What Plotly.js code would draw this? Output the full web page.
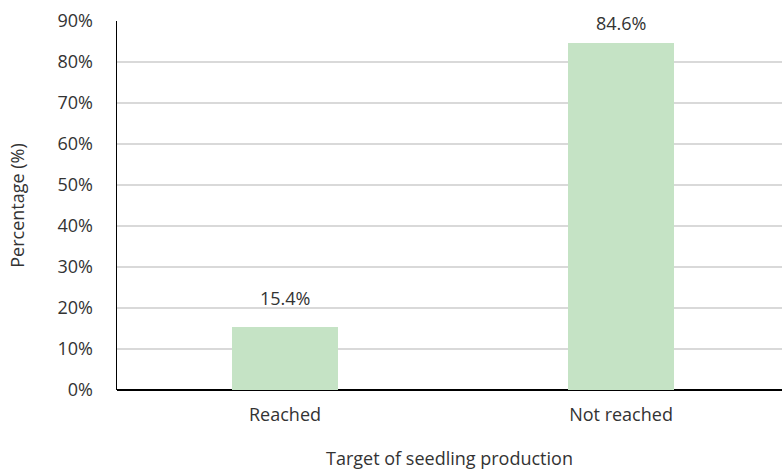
<!DOCTYPE html>
<html>
<head>
<meta charset="utf-8">
<script src="https://cdn.plot.ly/plotly-3.0.1.min.js"></script>
<style>
  html, body { margin: 0; padding: 0; background: #ffffff; }
  #chart { width: 782px; height: 471px; }
</style>
</head>
<body>
<div id="chart"></div>
<script>
// Share of nurseries by whether the seedling production target was met
const categories = ['Reached', 'Not reached'];
const percentages = [15.4, 84.6];
const valueLabels = ['15.4%', '84.6%'];
const yTickValues = [0, 10, 20, 30, 40, 50, 60, 70, 80, 90];
const yTickLabels = ['0%', '10%', '20%', '30%', '40%', '50%', '60%', '70%', '80%', '90%'];

const FONT = '"Open Sans", "Noto Sans", sans-serif';
const TEXT_COLOR = '#333333';
const SIZE = 18;

const bars = {
  type: 'bar',
  x: categories,
  y: percentages,
  width: 0.315,
  marker: { color: '#c5e3c5', line: { width: 0 } },
  hoverinfo: 'skip'
};

// value labels sit above each bar, kept inside the top of the plot
const labels = categories.map((c, i) => ({
  x: c,
  y: Math.min(percentages[i] + 7, 89.5),
  xref: 'x',
  yref: 'y',
  text: valueLabels[i],
  showarrow: false,
  yanchor: 'middle',
  font: { family: FONT, size: SIZE, color: TEXT_COLOR }
}));

const layout = {
  width: 782,
  height: 471,
  margin: { l: 117, r: 0, t: 21, b: 81 },
  paper_bgcolor: '#ffffff',
  plot_bgcolor: '#ffffff',
  showlegend: false,
  font: { family: FONT, size: SIZE, color: TEXT_COLOR },
  xaxis: {
    type: 'category',
    range: [-0.5, 1.479],
    showgrid: false,
    showline: false,
    zeroline: false,
    ticks: '',
    ticklabelstandoff: 12,
    tickfont: { family: FONT, size: SIZE, color: TEXT_COLOR },
    title: {
      text: 'Target of seedling production',
      font: { family: FONT, size: SIZE, color: TEXT_COLOR },
      standoff: 27
    }
  },
  yaxis: {
    range: [0, 90],
    tickvals: yTickValues,
    ticktext: yTickLabels,
    showgrid: true,
    gridcolor: '#d9d9d9',
    gridwidth: 1.5,
    zeroline: true,
    zerolinecolor: '#000000',
    zerolinewidth: 1.5,
    showline: true,
    linecolor: '#000000',
    linewidth: 1.5,
    ticks: '',
    ticklabelstandoff: 19,
    tickfont: { family: FONT, size: SIZE, color: TEXT_COLOR },
    title: {
      text: 'Percentage (%)',
      font: { family: FONT, size: SIZE, color: TEXT_COLOR },
      standoff: 28
    }
  },
  annotations: labels,
  bargap: 0
};

Plotly.newPlot('chart', [bars], layout, { displayModeBar: false, staticPlot: true });
</script>
</body>
</html>
